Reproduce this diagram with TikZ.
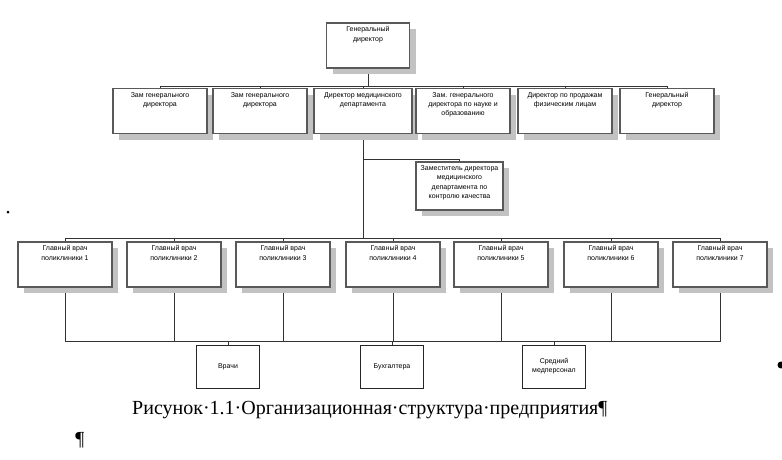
\documentclass[tikz,border=0pt]{standalone}
\usepackage{fontspec}
\setmainfont{Liberation Serif}
\newfontfamily\boxfont{Liberation Sans}
\usetikzlibrary{positioning,shadows,backgrounds}

\begin{document}
\begin{tikzpicture}[x=1pt,y=-1pt,
otdelbox/.style={draw=black!65,line width=1.8pt,fill=white,minimum width=94pt,minimum height=45pt,
  drop shadow={shadow xshift=6pt,shadow yshift=-6pt,fill=black!24,opacity=1}},
nadpis/.style={font=\boxfont\fontsize{7}{9.2}\selectfont,align=center,inner sep=0pt},
prostoj/.style={draw=black!85,line width=0.8pt,fill=white,minimum width=63pt,minimum height=43pt,
  font=\boxfont\fontsize{7}{9.2}\selectfont,align=center},
svyaz/.style={draw=black!80,line width=0.9pt}]
\useasboundingbox (0,0) rectangle (782,460);
\newcommand\otdel[4]{
\node[otdelbox,#3] (#1) at (#2) {};
\node[nadpis,below=4.5pt of #1.north] (#1t) {#4};
}
% top
\otdel{gen}{368,45.5}{minimum width=83pt}{Генеральный\\директор}
% deputies
\otdel{z1}{160,111}{}{Зам генерального\\директора}
\otdel{z2}{260,111}{}{Зам генерального\\директора}
\otdel{med}{363,111}{minimum width=98pt}{Директор медицинского\\департамента}
\otdel{nauka}{463,111}{}{Зам. генерального\\директора по науке и\\образованию}
\otdel{prod}{565,111}{}{Директор по продажам\\физическим лицам}
\otdel{gd2}{667,111}{}{Генеральный\\директор}
\otdel{zam}{459.5,186}{minimum width=87pt,minimum height=48pt}{Заместитель директора\\медицинского\\департамента по\\контролю качества}
% clinics
\foreach \n/\x in {1/65,2/174,3/283,4/393,5/501,6/611,7/720}{
\otdel{p\n}{\x,264.5}{}{Главный врач\\поликлиники \n}
}
% staff
\node[prostoj] (vr) at (228,366.5) {Врачи};
\node[prostoj] (buh) at (392,366.5) {Бухгалтера};
\node[prostoj] (sred) at (554,366.5) {Средний\\медперсонал};
% connectors
\begin{scope}[on background layer]
\coordinate (shina1) at (368,86);
\coordinate (otv) at (363,159);
\coordinate (shina2) at (363,238);
\coordinate (shina3) at (392,341);
\path[svyaz] (gen.south) -- (shina1);
\foreach \n in {z1,z2,med,nauka,prod,gd2}
  \path[svyaz] (shina1) -| (\n.north);
\path[svyaz] (med.south) -- (shina2);
\path[svyaz] (otv) -| (zam.north);
\foreach \n in {1,...,7}{
  \path[svyaz] (shina2) -| (p\n.north);
  \path[svyaz] (p\n.south) |- (shina3);
}
\foreach \n in {vr,buh,sred}
  \path[svyaz] (shina3) -| (\n.north);
\end{scope}
% caption
\node[anchor=base west,inner sep=0pt,font=\fontsize{20}{24}\selectfont] (podpis) at (132,414)
  {Рисунок·1.1·Организационная·структура·предприятия¶};
\node[inner sep=0pt,font=\fontsize{20}{24}\selectfont] (abzac) at (80,440) {¶};
\fill (8,212) circle (1.5);
\fill (781,365) circle (3.5);
\end{tikzpicture}
\end{document}
